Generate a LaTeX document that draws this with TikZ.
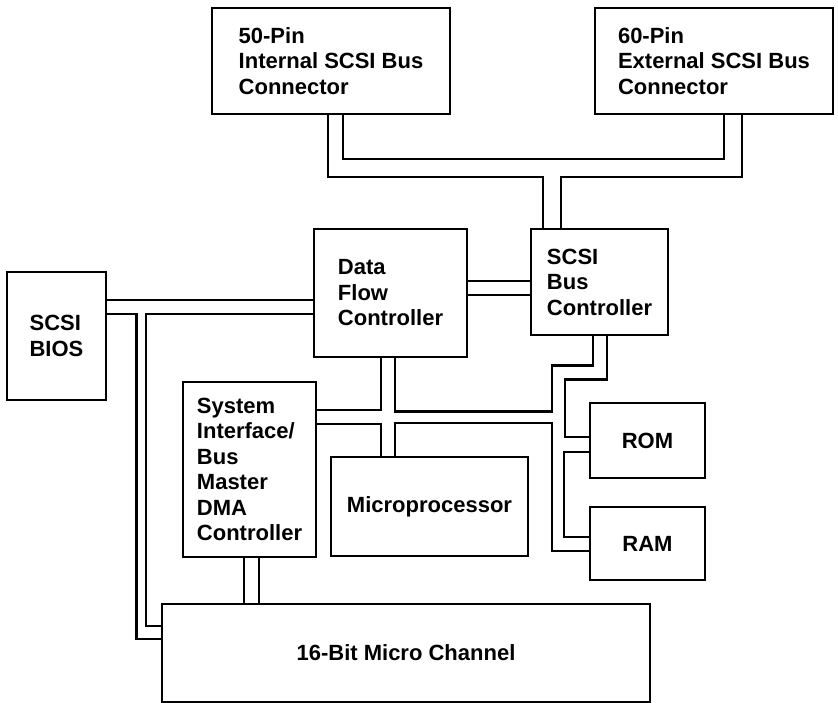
\documentclass[tikz,border=0pt]{standalone}
\usepackage{fontspec}
\setmainfont{Liberation Sans}
\usetikzlibrary{positioning}

\begin{document}
\begin{tikzpicture} [x=1pt, y=-1pt,
    box/.style={rectangle,draw=black,line width=2.5pt,
                  inner sep=0pt,align=left,
                  font=\bfseries\fontsize{22pt}{25.5pt}\selectfont},
    bus/.style={draw=black,line width=2.5pt}
]
    \useasboundingbox (0,0) rectangle (838,703);

    % boxes
    \node[box,minimum width=238pt,minimum height=106pt] (internal) at (331,61)
        {50-Pin\\Internal SCSI Bus\\Connector};
    \node[box,minimum width=238pt,minimum height=106pt] (external) at (714,61)
        {60-Pin\\External SCSI Bus\\Connector};
    \node[box,minimum width=99pt,minimum height=128pt]  (bios)     at (56.5,336)
        {SCSI\\BIOS};
    \node[box,minimum width=153pt,minimum height=128pt] (dataflow) at (390.5,293)
        {Data\\Flow\\Controller};
    \node[box,minimum width=137pt,minimum height=106pt] (scsibus)  at (599.5,282)
        {SCSI\\Bus\\Controller};
    \node[box,minimum width=133pt,minimum height=175pt] (sysif)    at (249.5,469.5)
        {System\\Interface/\\Bus\\Master\\DMA\\Controller};
    \node[box,minimum width=197pt,minimum height=99pt]  (micro)    at (429.5,506.5)
        {Microprocessor};
    \node[box,minimum width=115pt,minimum height=75pt]  (rom)      at (647.5,440.5)
        {ROM};
    \node[box,minimum width=115pt,minimum height=73pt]  (ram)      at (647.5,543.5)
        {RAM};
    \node[box,minimum width=488pt,minimum height=98pt]  (channel)  at (406,653)
        {16-Bit Micro Channel};

    % SCSI connectors to bus controller
    \draw[bus] ([xshift=12pt]internal.south) -- ++(0,44) -| ([xshift=10pt]external.south);
    \draw[bus] ([xshift=-3pt]internal.south) -- ++(0,62) -| ([xshift=-56.5pt]scsibus.north);
    \draw[bus] ([xshift=28pt]external.south) -- ++(0,62) -| ([xshift=-38.5pt]scsibus.north);

    % data flow to bus controller
    \draw[bus] ([yshift=12pt]dataflow.east) -- ([yshift=12pt]dataflow.east -| scsibus.west);
    \draw[bus] ([yshift=-2pt]dataflow.east) -- ([yshift=-2pt]dataflow.east -| scsibus.west);

    % BIOS bus
    \draw[bus] ([yshift=36pt]bios.east) -- ([yshift=36pt]bios.east -| dataflow.west);
    \draw[bus] ([yshift=22pt]bios.east) -- ++(29,0) |- ([yshift=14pt]channel.west);
    \draw[bus] ([yshift=-21pt]dataflow.west) -- ++(-167,0) |- ([yshift=27pt]channel.west);

    % local bus
    \draw[bus] ([xshift=-9.5pt]dataflow.south) |- ([yshift=59.5pt]sysif.east);
    \draw[bus] ([yshift=45.5pt]sysif.east) -| ([xshift=-48.5pt]micro.north);
    \draw[bus] ([xshift=4.5pt]dataflow.south) -- ++(0,53) -| ++(157,-46)
        -| ([xshift=-6.5pt]scsibus.south);
    \draw[bus] ([xshift=-34.5pt]micro.north) -- ++(0,-33) -- ++(157,0)
        |- ([yshift=-7.5pt]ram.west);

    % memory
    \draw[bus] ([xshift=7.5pt]scsibus.south) -- ++(0,43) -- ++(-42,0)
        |- ([yshift=3.5pt]rom.west);
    \draw[bus] ([yshift=-11.5pt]rom.west) -- ++(-25,0) |- ([yshift=6.5pt]ram.west);

    % system interface to micro channel
    \draw[bus] ([xshift=-5.5pt]sysif.south) -- ([xshift=-5.5pt]sysif.south |- channel.north);
    \draw[bus] ([xshift=9.5pt]sysif.south) -- ([xshift=9.5pt]sysif.south |- channel.north);
\end{tikzpicture}
\end{document}
